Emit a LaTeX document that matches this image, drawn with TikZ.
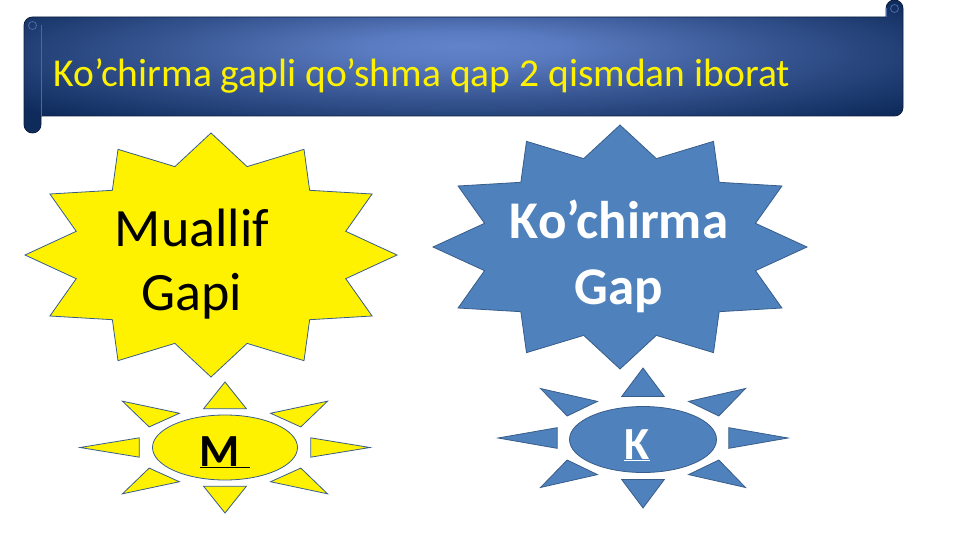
\documentclass[tikz,border=0pt]{standalone}
\usepackage{fontspec}
\setmainfont{Carlito}
\usetikzlibrary{shapes.geometric}
\definecolor{scrolldark}{HTML}{0F2B5C}
\definecolor{scrolllight}{HTML}{6283CB}
\definecolor{curlblue}{HTML}{4A68A6}
\definecolor{edgeblue}{HTML}{385D8A}
\definecolor{starblue}{HTML}{4F81BD}
\pgfdeclareradialshading{scrollglow}{\pgfpoint{0bp}{8bp}}{color(0bp)=(scrolllight); color(6bp)=(scrolllight!90!scrolldark); color(17bp)=(scrolllight!50!scrolldark); color(32bp)=(scrolldark); color(60bp)=(scrolldark)}
\tikzset{
	ystar/.style={fill=yellow, draw=edgeblue, line width=0.8pt},
	bstar/.style={fill=starblue, draw=edgeblue, line width=0.8pt},
	yray/.style={fill=yellow, draw=edgeblue, line width=0.8pt},
	bray/.style={fill=starblue, draw=edgeblue, line width=0.8pt},
	scrollcurl/.style={draw=curlblue, line width=0.8pt},
	heading/.style={anchor=base west, text=yellow, font=\fontsize{39.5}{44}\selectfont},
	bigtext/.style={anchor=base, text=black, font=\fontsize{54}{60}\selectfont},
	bluetext/.style={anchor=base, text=white, font=\bfseries\fontsize{53}{58}\selectfont},
	smalltext/.style={anchor=base, font=\bfseries\fontsize{46}{50}\selectfont}
}
\begin{document}
\begin{tikzpicture}[x=1pt, y=-1pt]
	\useasboundingbox (0,0) rectangle (961,540);
	% scroll banner
	\shade[shading=scrollglow, draw=scrolldark!70!black, line width=0.8pt]
		(32.5,17) -- (886,17) -- (886,8.5) arc[start angle=180, end angle=360, radius=8.5]
		-- (903,107.5) arc[start angle=0, end angle=90, radius=8.5] -- (41,116)
		-- (41,124.5) arc[start angle=0, end angle=180, radius=8.5]
		-- (24,25.5) arc[start angle=180, end angle=270, radius=8.5] -- cycle;
	\draw[scrollcurl] (41,25.5) -- (41,116);
	\draw[scrollcurl] (32.5,25.5) circle[radius=4];
	\draw[scrollcurl] (886,8.5) -- (886,17);
	\draw[scrollcurl] (894.5,8.5) circle[radius=4];
	\node[heading] (title) at (50,87) {Ko’chirma gapli qo’shma qap 2 qismdan iborat};

	% big stars
	\begin{scope}[shift={(211,255)}, x=186pt, y=122pt]
		\filldraw[ystar] (90:1) \foreach \k in {1,...,23} {-- ({90+15*\k}:{1-0.25*mod(\k,2)})} -- cycle;
	\end{scope}
	\begin{scope}[shift={(620,247)}, x=187pt, y=122pt]
		\filldraw[bstar] (90:1) \foreach \k in {1,...,23} {-- ({90+15*\k}:{1-0.25*mod(\k,2)})} -- cycle;
	\end{scope}
	\node[bigtext] (muallif) at (192,247) {Muallif};
	\node[bigtext] (gapi) at (192,310) {Gapi};
	\node[bluetext] (kochirma) at (619,239) {Ko’chirma};
	\node[bluetext] (gap) at (619,304) {Gap};

	% suns
	\begin{scope}[shift={(225,447.5)}, x=145pt, y=65.5pt]
		\foreach \a in {0,45,...,315}
			\filldraw[yray] (\a:1) -- ({\a+14}:0.61) -- ({\a-14}:0.61) -- cycle;
	\end{scope}
	\node[ellipse, yray, minimum width=145pt, minimum height=65pt] (msun) at (225,447.5) {};
	\node[smalltext] (mletter) at (225,466) {\underline{M\ }};
	\begin{scope}[shift={(643,438)}, x=145pt, y=70pt]
		\foreach \a in {0,45,...,315}
			\filldraw[bray] (\a:1) -- ({\a+14}:0.61) -- ({\a-14}:0.61) -- cycle;
	\end{scope}
	\node[ellipse, bray, minimum width=147pt, minimum height=66pt] (ksun) at (643,439.5) {};
	\node[smalltext, text=white] (kletter) at (637,459) {\underline{K}};
\end{tikzpicture}
\end{document}
